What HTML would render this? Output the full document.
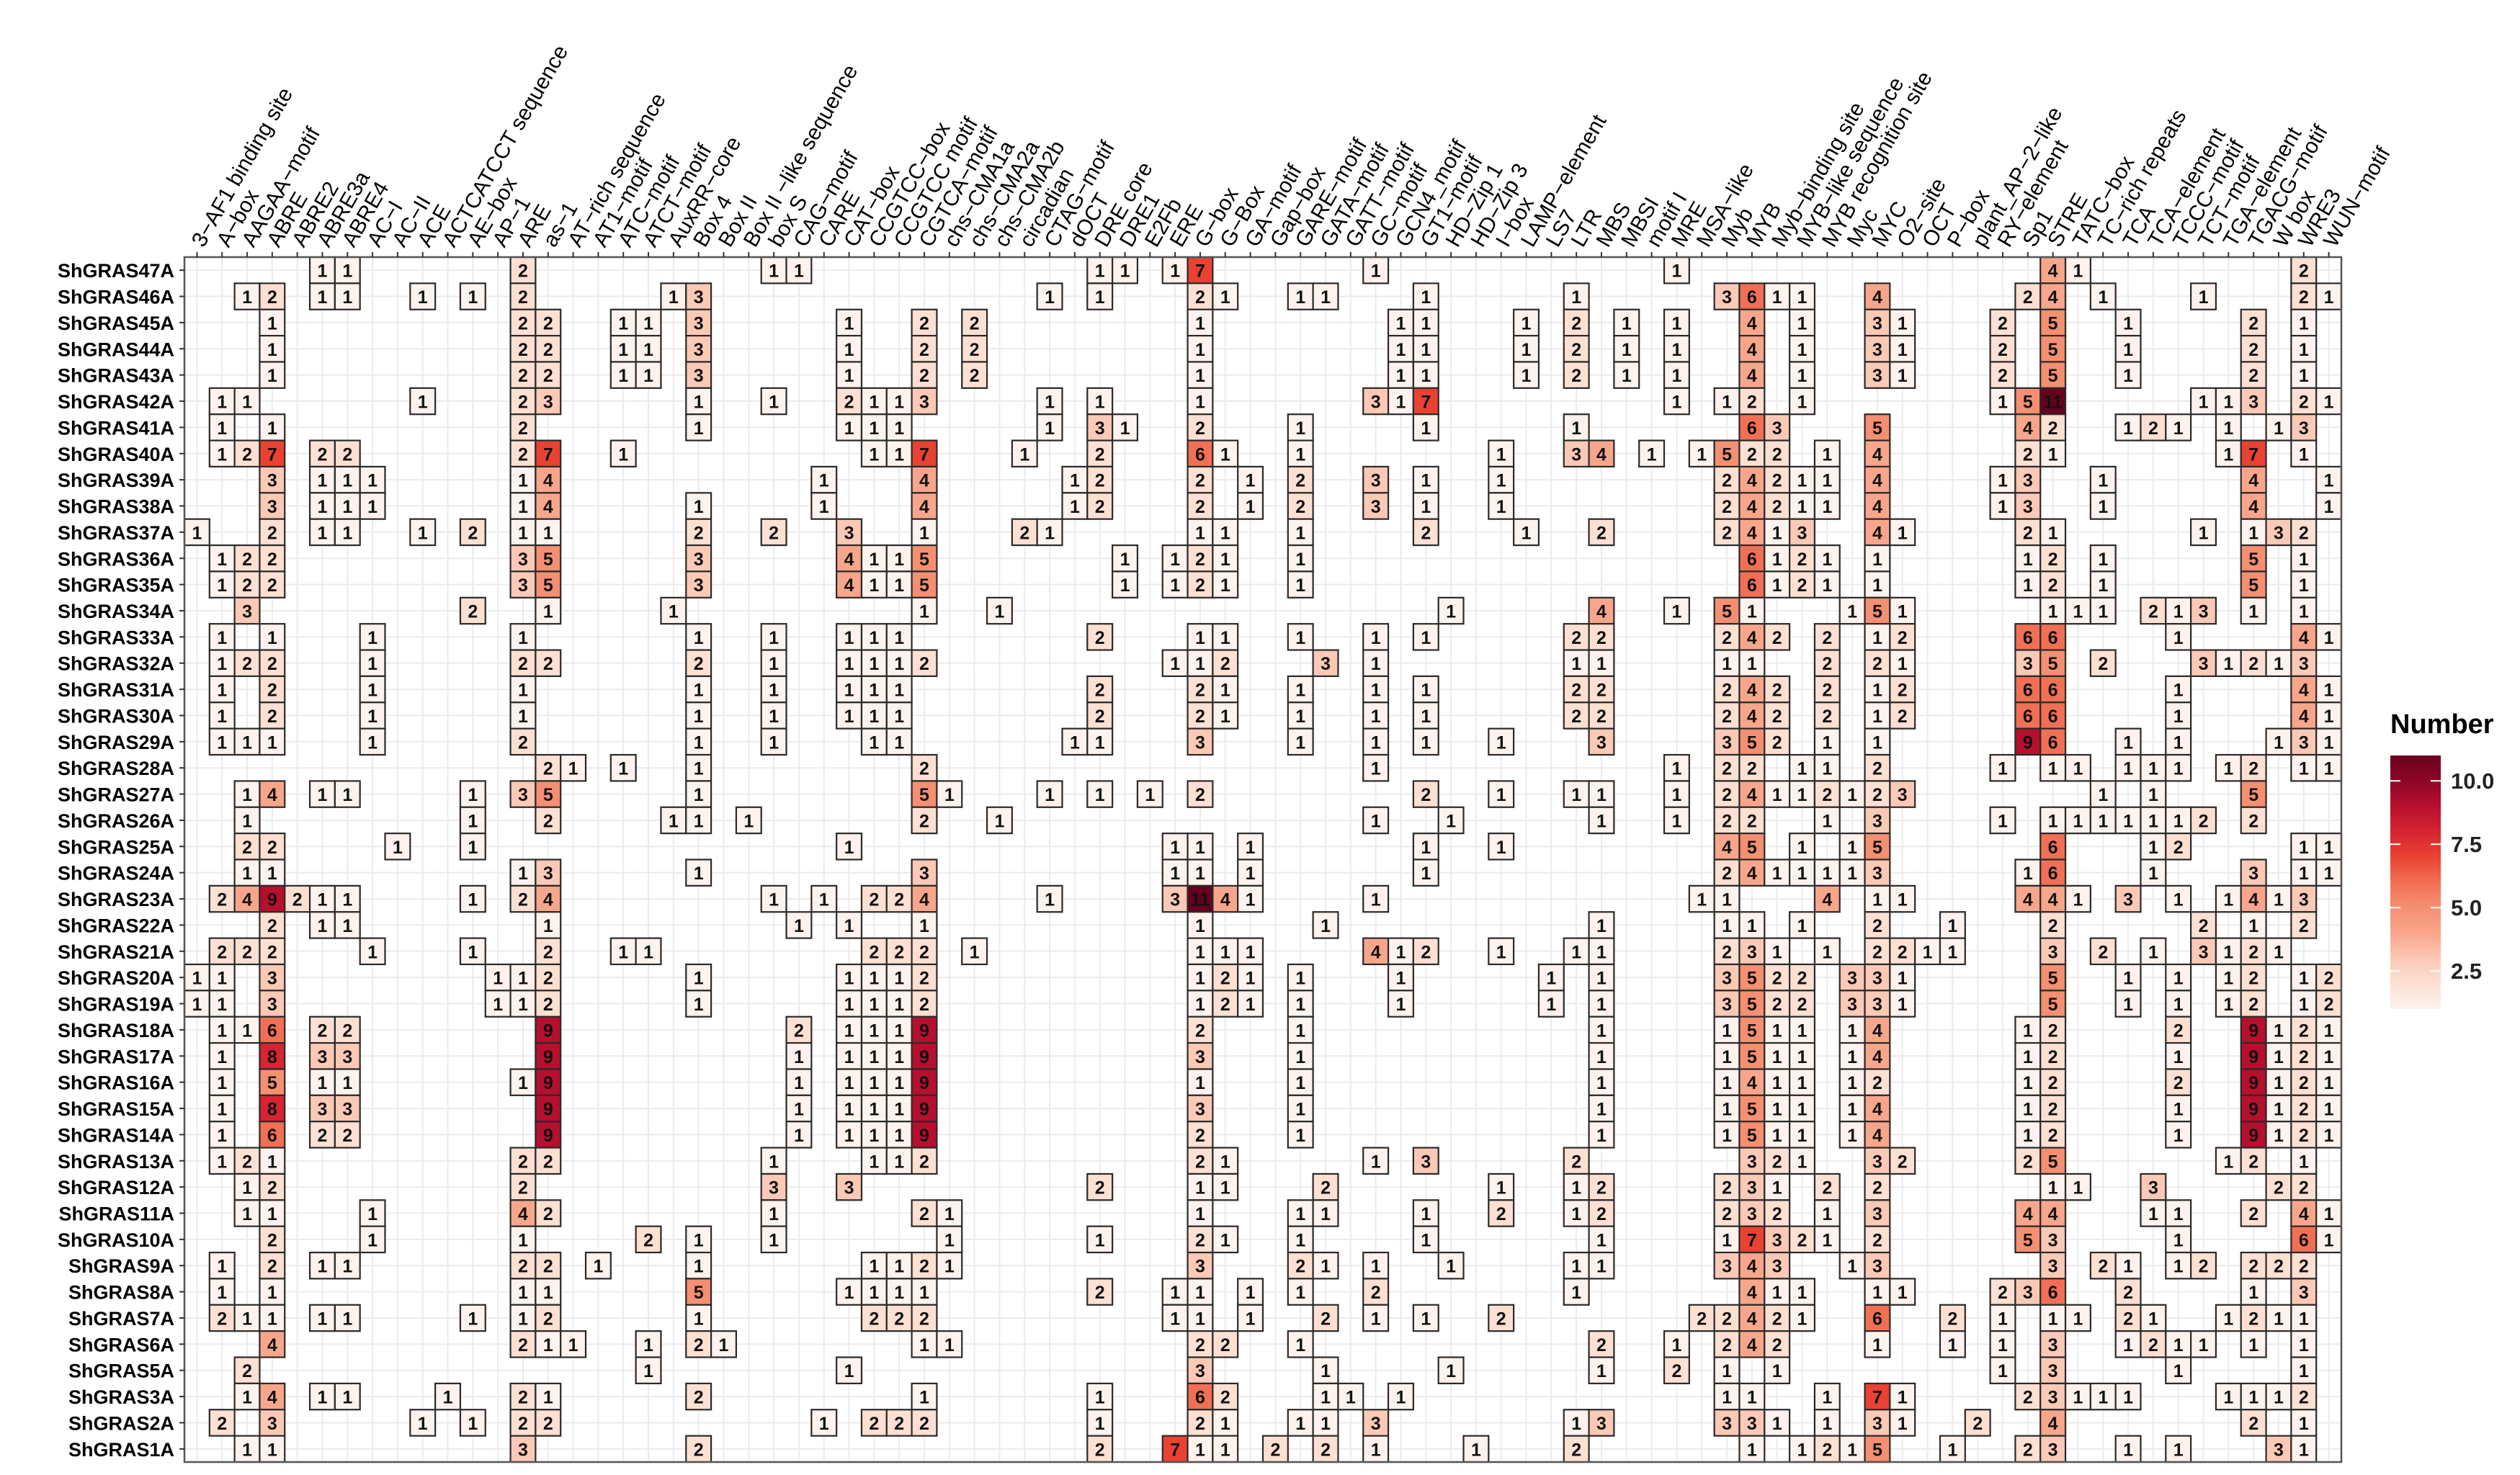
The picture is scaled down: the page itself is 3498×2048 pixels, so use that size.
<!DOCTYPE html>
<html><head><meta charset="utf-8">
<style>
html,body{margin:0;padding:0;background:#fff;}
svg{display:block;}
text{font-family:"Liberation Sans",Arial,sans-serif;}
</style></head>
<body>
<svg id="chart" width="3498" height="2048" viewBox="0 0 3498 2048" xmlns="http://www.w3.org/2000/svg">
<rect x="0" y="0" width="3498" height="2048" fill="#ffffff"/>
<g id="grid"></g><g id="tiles"></g><g id="xlabels"></g><g id="ylabels"></g><g id="legend"></g>
</svg>
<script>
const motifs = ["3−AF1 binding site","A−box","AAGAA−motif","ABRE","ABRE2","ABRE3a","ABRE4","AC−I","AC−II","ACE","ACTCATCCT sequence","AE−box","AP−1","ARE","as−1","AT−rich sequence","AT1−motif","ATC−motif","ATCT−motif","AuxRR−core","Box 4","Box II","Box II −like sequence","box S","CAG−motif","CARE","CAT−box","CCGTCC−box","CCGTCC motif","CGTCA−motif","chs−CMA1a","chs−CMA2a","chs−CMA2b","circadian","CTAG−motif","dOCT","DRE core","DRE1","E2Fb","ERE","G−box","G−Box","GA−motif","Gap−box","GARE−motif","GATA−motif","GATT−motif","GC−motif","GCN4_motif","GT1−motif","HD−Zip 1","HD−Zip 3","I−box","LAMP−element","LS7","LTR","MBS","MBSI","motif I","MRE","MSA−like","Myb","MYB","Myb−binding site","MYB−like sequence","MYB recognition site","Myc","MYC","O2−site","OCT","P−box","plant_AP−2−like","RY−element","Sp1","STRE","TATC−box","TC−rich repeats","TCA","TCA−element","TCCC−motif","TCT−motif","TGA−element","TGACG−motif","W box","WRE3","WUN−motif"];
const genes = ["ShGRAS47A","ShGRAS46A","ShGRAS45A","ShGRAS44A","ShGRAS43A","ShGRAS42A","ShGRAS41A","ShGRAS40A","ShGRAS39A","ShGRAS38A","ShGRAS37A","ShGRAS36A","ShGRAS35A","ShGRAS34A","ShGRAS33A","ShGRAS32A","ShGRAS31A","ShGRAS30A","ShGRAS29A","ShGRAS28A","ShGRAS27A","ShGRAS26A","ShGRAS25A","ShGRAS24A","ShGRAS23A","ShGRAS22A","ShGRAS21A","ShGRAS20A","ShGRAS19A","ShGRAS18A","ShGRAS17A","ShGRAS16A","ShGRAS15A","ShGRAS14A","ShGRAS13A","ShGRAS12A","ShGRAS11A","ShGRAS10A","ShGRAS9A","ShGRAS8A","ShGRAS7A","ShGRAS6A","ShGRAS5A","ShGRAS3A","ShGRAS2A","ShGRAS1A"];
// counts per gene: [motif column (1-based), count]
const r45 = [[4,1],[14,2],[15,2],[18,1],[19,1],[21,3],[27,1],[30,2],[32,2],[41,1],[49,1],[50,1],[54,1],[56,2],[58,1],[60,1],[63,4],[65,1],[68,3],[69,1],[73,2],[75,5],[78,1],[83,2],[85,1]];
const r36 = [[2,1],[3,2],[4,2],[14,3],[15,5],[21,3],[27,4],[28,1],[29,1],[30,5],[38,1],[40,1],[41,2],[42,1],[45,1],[63,6],[64,1],[65,2],[66,1],[68,1],[74,1],[75,2],[77,1],[83,5],[85,1]];
const r31 = [[2,1],[4,2],[8,1],[14,1],[21,1],[24,1],[27,1],[28,1],[29,1],[37,2],[41,2],[42,1],[45,1],[48,1],[50,1],[56,2],[57,2],[62,2],[63,4],[64,2],[66,2],[68,1],[69,2],[74,6],[75,6],[80,1],[85,4],[86,1]];
const r20 = [[1,1],[2,1],[4,3],[13,1],[14,1],[15,2],[21,1],[27,1],[28,1],[29,1],[30,2],[41,1],[42,2],[43,1],[45,1],[49,1],[55,1],[57,1],[62,3],[63,5],[64,2],[65,2],[67,3],[68,3],[69,1],[75,5],[78,1],[80,1],[82,1],[83,2],[85,1],[86,2]];
const cells = [
[[6,1],[7,1],[14,2],[24,1],[25,1],[37,1],[38,1],[40,1],[41,7],[48,1],[60,1],[75,4],[76,1],[85,2]],
[[3,1],[4,2],[6,1],[7,1],[10,1],[12,1],[14,2],[20,1],[21,3],[35,1],[37,1],[41,2],[42,1],[45,1],[46,1],[50,1],[56,1],[62,3],[63,6],[64,1],[65,1],[68,4],[74,2],[75,4],[77,1],[81,1],[85,2],[86,1]],
r45, r45, r45,
[[2,1],[3,1],[10,1],[14,2],[15,3],[21,1],[24,1],[27,2],[28,1],[29,1],[30,3],[35,1],[37,1],[41,1],[48,3],[49,1],[50,7],[60,1],[62,1],[63,2],[65,1],[73,1],[74,5],[75,11],[81,1],[82,1],[83,3],[85,2],[86,1]],
[[2,1],[4,1],[14,2],[21,1],[27,1],[28,1],[29,1],[35,1],[37,3],[38,1],[41,2],[45,1],[50,1],[56,1],[63,6],[64,3],[68,5],[74,4],[75,2],[78,1],[79,2],[80,1],[82,1],[84,1],[85,3]],
[[2,1],[3,2],[4,7],[6,2],[7,2],[14,2],[15,7],[18,1],[28,1],[29,1],[30,7],[34,1],[37,2],[41,6],[42,1],[45,1],[53,1],[56,3],[57,4],[59,1],[61,1],[62,5],[63,2],[64,2],[66,1],[68,4],[74,2],[75,1],[82,1],[83,7],[85,1]],
[[4,3],[6,1],[7,1],[8,1],[14,1],[15,4],[26,1],[30,4],[36,1],[37,2],[41,2],[43,1],[45,2],[48,3],[50,1],[53,1],[62,2],[63,4],[64,2],[65,1],[66,1],[68,4],[73,1],[74,3],[77,1],[83,4],[86,1]],
[[4,3],[6,1],[7,1],[8,1],[14,1],[15,4],[21,1],[26,1],[30,4],[36,1],[37,2],[41,2],[43,1],[45,2],[48,3],[50,1],[53,1],[62,2],[63,4],[64,2],[65,1],[66,1],[68,4],[73,1],[74,3],[77,1],[83,4],[86,1]],
[[1,1],[4,2],[6,1],[7,1],[10,1],[12,2],[14,1],[15,1],[21,2],[24,2],[27,3],[30,1],[34,2],[35,1],[41,1],[42,1],[45,1],[50,2],[54,1],[57,2],[62,2],[63,4],[64,1],[65,3],[68,4],[69,1],[74,2],[75,1],[81,1],[83,1],[84,3],[85,2]],
r36, r36,
[[3,3],[12,2],[15,1],[20,1],[30,1],[33,1],[51,1],[57,4],[60,1],[62,5],[63,1],[67,1],[68,5],[69,1],[75,1],[76,1],[77,1],[79,2],[80,1],[81,3],[83,1],[85,1]],
[[2,1],[4,1],[8,1],[14,1],[21,1],[24,1],[27,1],[28,1],[29,1],[37,2],[41,1],[42,1],[45,1],[48,1],[50,1],[56,2],[57,2],[62,2],[63,4],[64,2],[66,2],[68,1],[69,2],[74,6],[75,6],[80,1],[85,4],[86,1]],
[[2,1],[3,2],[4,2],[8,1],[14,2],[15,2],[21,2],[24,1],[27,1],[28,1],[29,1],[30,2],[40,1],[41,1],[42,2],[46,3],[48,1],[56,1],[57,1],[62,1],[63,1],[66,2],[68,2],[69,1],[74,3],[75,5],[77,2],[81,3],[82,1],[83,2],[84,1],[85,3]],
r31, r31,
[[2,1],[3,1],[4,1],[8,1],[14,2],[21,1],[24,1],[28,1],[29,1],[36,1],[37,1],[41,3],[45,1],[48,1],[50,1],[53,1],[57,3],[62,3],[63,5],[64,2],[66,1],[68,1],[74,9],[75,6],[78,1],[80,1],[84,1],[85,3],[86,1]],
[[15,2],[16,1],[18,1],[21,1],[30,2],[48,1],[60,1],[62,2],[63,2],[65,1],[66,1],[68,2],[73,1],[75,1],[76,1],[78,1],[79,1],[80,1],[82,1],[83,2],[85,1],[86,1]],
[[3,1],[4,4],[6,1],[7,1],[12,1],[14,3],[15,5],[21,1],[30,5],[31,1],[35,1],[37,1],[39,1],[41,2],[50,2],[53,1],[56,1],[57,1],[60,1],[62,2],[63,4],[64,1],[65,1],[66,2],[67,1],[68,2],[69,3],[77,1],[79,1],[83,5]],
[[3,1],[12,1],[15,2],[20,1],[21,1],[23,1],[30,2],[33,1],[48,1],[51,1],[57,1],[60,1],[62,2],[63,2],[66,1],[68,3],[73,1],[75,1],[76,1],[77,1],[78,1],[79,1],[80,1],[81,2],[83,2]],
[[3,2],[4,2],[9,1],[12,1],[27,1],[40,1],[41,1],[43,1],[50,1],[53,1],[62,4],[63,5],[65,1],[67,1],[68,5],[75,6],[79,1],[80,2],[85,1],[86,1]],
[[3,1],[4,1],[14,1],[15,3],[21,1],[30,3],[40,1],[41,1],[43,1],[50,1],[62,2],[63,4],[64,1],[65,1],[66,1],[67,1],[68,3],[74,1],[75,6],[79,1],[83,3],[85,1],[86,1]],
[[2,2],[3,4],[4,9],[5,2],[6,1],[7,1],[12,1],[14,2],[15,4],[24,1],[26,1],[28,2],[29,2],[30,4],[35,1],[40,3],[41,11],[42,4],[43,1],[48,1],[61,1],[62,1],[66,4],[68,1],[69,1],[74,4],[75,4],[76,1],[78,3],[80,1],[82,1],[83,4],[84,1],[85,3]],
[[4,2],[6,1],[7,1],[15,1],[25,1],[27,1],[30,1],[41,1],[46,1],[57,1],[62,1],[63,1],[65,1],[68,2],[71,1],[75,2],[81,2],[83,1],[85,2]],
[[2,2],[3,2],[4,2],[8,1],[12,1],[15,2],[18,1],[19,1],[28,2],[29,2],[30,2],[32,1],[41,1],[42,1],[43,1],[48,4],[49,1],[50,2],[53,1],[56,1],[57,1],[62,2],[63,3],[64,1],[66,1],[68,2],[69,2],[70,1],[71,1],[75,3],[77,2],[79,1],[81,3],[82,1],[83,2],[84,1]],
r20, r20,
[[2,1],[3,1],[4,6],[6,2],[7,2],[15,9],[25,2],[27,1],[28,1],[29,1],[30,9],[41,2],[45,1],[57,1],[62,1],[63,5],[64,1],[65,1],[67,1],[68,4],[74,1],[75,2],[80,2],[83,9],[84,1],[85,2],[86,1]],
[[2,1],[4,8],[6,3],[7,3],[15,9],[25,1],[27,1],[28,1],[29,1],[30,9],[41,3],[45,1],[57,1],[62,1],[63,5],[64,1],[65,1],[67,1],[68,4],[74,1],[75,2],[80,1],[83,9],[84,1],[85,2],[86,1]],
[[2,1],[4,5],[6,1],[7,1],[14,1],[15,9],[25,1],[27,1],[28,1],[29,1],[30,9],[41,1],[45,1],[57,1],[62,1],[63,4],[64,1],[65,1],[67,1],[68,2],[74,1],[75,2],[80,2],[83,9],[84,1],[85,2],[86,1]],
[[2,1],[4,8],[6,3],[7,3],[15,9],[25,1],[27,1],[28,1],[29,1],[30,9],[41,3],[45,1],[57,1],[62,1],[63,5],[64,1],[65,1],[67,1],[68,4],[74,1],[75,2],[80,1],[83,9],[84,1],[85,2],[86,1]],
[[2,1],[4,6],[6,2],[7,2],[15,9],[25,1],[27,1],[28,1],[29,1],[30,9],[41,2],[45,1],[57,1],[62,1],[63,5],[64,1],[65,1],[67,1],[68,4],[74,1],[75,2],[80,1],[83,9],[84,1],[85,2],[86,1]],
[[2,1],[3,2],[4,1],[14,2],[15,2],[24,1],[28,1],[29,1],[30,2],[41,2],[42,1],[48,1],[50,3],[56,2],[63,3],[64,2],[65,1],[68,3],[69,2],[74,2],[75,5],[82,1],[83,2],[85,1]],
[[3,1],[4,2],[14,2],[24,3],[27,3],[37,2],[41,1],[42,1],[46,2],[53,1],[56,1],[57,2],[62,2],[63,3],[64,1],[66,2],[68,2],[75,1],[76,1],[79,3],[84,2],[85,2]],
[[3,1],[4,1],[8,1],[14,4],[15,2],[24,1],[30,2],[31,1],[41,1],[45,1],[46,1],[50,1],[53,2],[56,1],[57,2],[62,2],[63,3],[64,2],[66,1],[68,3],[74,4],[75,4],[79,1],[80,1],[83,2],[85,4],[86,1]],
[[4,2],[8,1],[14,1],[19,2],[21,1],[24,1],[31,1],[37,1],[41,2],[42,1],[45,1],[50,1],[57,1],[62,1],[63,7],[64,3],[65,2],[66,1],[68,2],[74,5],[75,3],[80,1],[85,6],[86,1]],
[[2,1],[4,2],[6,1],[7,1],[14,2],[15,2],[17,1],[21,1],[28,1],[29,1],[30,2],[31,1],[41,3],[45,2],[46,1],[48,1],[51,1],[56,1],[57,1],[62,3],[63,4],[64,3],[67,1],[68,3],[75,3],[77,2],[78,1],[80,1],[81,2],[83,2],[84,2],[85,2]],
[[2,1],[4,1],[14,1],[15,1],[21,5],[27,1],[28,1],[29,1],[30,1],[37,2],[40,1],[41,1],[43,1],[45,1],[48,2],[56,1],[63,4],[64,1],[65,1],[68,1],[69,1],[73,2],[74,3],[75,6],[78,2],[83,1],[85,3]],
[[2,2],[3,1],[4,1],[6,1],[7,1],[12,1],[14,1],[15,2],[21,1],[28,2],[29,2],[30,2],[40,1],[41,1],[43,1],[46,2],[48,1],[50,1],[53,2],[61,2],[62,2],[63,4],[64,2],[65,1],[68,6],[71,2],[73,1],[75,1],[76,1],[78,2],[79,1],[82,1],[83,2],[84,1],[85,1]],
[[4,4],[14,2],[15,1],[16,1],[19,1],[21,2],[22,1],[30,1],[31,1],[41,2],[42,2],[45,1],[57,2],[60,1],[62,2],[63,4],[64,2],[68,1],[71,1],[73,1],[75,3],[78,1],[79,2],[80,1],[81,1],[83,1],[85,1]],
[[3,2],[19,1],[27,1],[41,3],[46,1],[51,1],[57,1],[60,2],[62,1],[64,1],[73,1],[75,3],[80,1],[85,1]],
[[3,1],[4,4],[6,1],[7,1],[11,1],[14,2],[15,1],[21,2],[30,1],[37,1],[41,6],[42,2],[46,1],[47,1],[49,1],[62,1],[63,1],[66,1],[68,7],[69,1],[74,2],[75,3],[76,1],[77,1],[78,1],[82,1],[83,1],[84,1],[85,2]],
[[2,2],[4,3],[10,1],[12,1],[14,2],[15,2],[26,1],[28,2],[29,2],[30,2],[37,1],[41,2],[42,1],[45,1],[46,1],[48,3],[56,1],[57,3],[62,3],[63,3],[64,1],[66,1],[68,3],[69,1],[72,2],[75,4],[83,2],[85,1]],
[[3,1],[4,1],[14,3],[21,2],[37,2],[40,7],[41,1],[42,1],[44,2],[46,2],[48,1],[52,1],[56,2],[63,1],[65,1],[66,2],[67,1],[68,5],[71,1],[74,2],[75,3],[78,1],[80,1],[84,3],[85,1]]
];
const legendTicks = [2.5, 5.0, 7.5, 10.0];
const legendMin = 1, legendMax = 11;

const NS = "http://www.w3.org/2000/svg";
const X0 = 256, X1 = 3250, Y0 = 357, Y1 = 2030;
const CW = (X1 - X0) / motifs.length, RH = (Y1 - Y0) / genes.length;
function xScale(c) { return X0 + (c - 0.5) * CW; }
function yScale(r) { return Y0 + (r + 0.5) * RH; }
const stops = [[1,[253,242,237]],[2,[253,224,210]],[3,[251,201,182]],[4,[248,166,139]],[5,[245,143,113]],[6,[241,112,85]],[7,[233,66,50]],[8,[214,36,50]],[9,[183,15,46]],[10,[142,6,38]],[11,[103,0,31]]];
function colorFor(v) {
  if (v <= stops[0][0]) return "rgb(" + stops[0][1].join(",") + ")";
  for (let i = 1; i < stops.length; i++) {
    if (v <= stops[i][0]) {
      const a = stops[i-1], b = stops[i], t = (v - a[0]) / (b[0] - a[0]);
      const c = a[1].map((x, k) => Math.round(x + (b[1][k] - x) * t));
      return "rgb(" + c.join(",") + ")";
    }
  }
  return "rgb(" + stops[stops.length-1][1].join(",") + ")";
}
function mk(tag, attrs, parent) {
  const el = document.createElementNS(NS, tag);
  for (const k in attrs) el.setAttribute(k, attrs[k]);
  parent.appendChild(el);
  return el;
}
const gGrid = document.getElementById("grid");
const gTiles = document.getElementById("tiles");
const gX = document.getElementById("xlabels");
const gY = document.getElementById("ylabels");
const gL = document.getElementById("legend");

for (let c = 1; c <= motifs.length; c++) {
  const l = mk("line", {x1:xScale(c), x2:xScale(c), y1:Y0, y2:Y1, stroke:"#ebebeb", "stroke-width":2}, gGrid);
  
  
}
for (let r = 0; r < genes.length; r++) {
  const l = mk("line", {x1:X0, x2:X1, y1:yScale(r), y2:yScale(r), stroke:"#ebebeb", "stroke-width":2}, gGrid);
  
  
}

cells.forEach((row, r) => {
  row.forEach(([c, v]) => {
    const cx = xScale(c), cy = yScale(r);
    const rect = mk("rect", {x:cx - CW/2, y:cy - RH/2, width:CW, height:RH, fill:colorFor(v), stroke:"#2a2a2a", "stroke-width":2.2}, gTiles);
    
    
    const t = mk("text", {x:cx, y:cy + 9.5, "text-anchor":"middle", "font-size":25, "font-weight":"bold", fill:"#111"}, gTiles);
    t.textContent = v;
    
    
  });
});
const border = mk("rect", {x:X0, y:Y0, width:X1-X0, height:Y1-Y0, fill:"none", stroke:"#555555", "stroke-width":2.5}, gTiles);



motifs.forEach((m, i) => {
  const cx = xScale(i + 1);
  const tk = mk("line", {x1:cx, x2:cx, y1:Y0 - 7, y2:Y0, stroke:"#333", "stroke-width":2}, gX);
  
  
  const t = mk("text", {transform:"translate(" + (cx + 9) + "," + (Y0 - 12) + ") rotate(-60)", "text-anchor":"start", "font-size":30, fill:"#000"}, gX);
  t.textContent = m;
  
  
});
genes.forEach((g, r) => {
  const cy = yScale(r);
  const tk = mk("line", {x1:X0 - 7, x2:X0, y1:cy, y2:cy, stroke:"#333", "stroke-width":2}, gY);
  
  
  const t = mk("text", {x:X0 - 14, y:cy + 10, "text-anchor":"end", "font-size":27, "font-weight":"bold", fill:"#000"}, gY);
  t.textContent = g;
  
  
});

const LX = 3318, LW = 70, LT = 1049, LB = 1401;
function lScale(v) { return LB - (v - legendMin) / (legendMax - legendMin) * (LB - LT); }
const defs = mk("defs", {}, gL);
const grad = mk("linearGradient", {id:"lg", x1:0, y1:1, x2:0, y2:0}, defs);
stops.forEach(([v, col]) => {
  mk("stop", {offset:((v - legendMin) / (legendMax - legendMin)), "stop-color":"rgb(" + col.join(",") + ")"}, grad);
});
const title = mk("text", {x:LX, y:1018, "font-size":38, "font-weight":"bold", fill:"#000"}, gL);
title.textContent = "Number";


const bar = mk("rect", {x:LX, y:LT, width:LW, height:LB - LT, fill:"url(#lg)"}, gL);


legendTicks.forEach(v => {
  const y = lScale(v);
  const a = mk("line", {x1:LX, x2:LX + 14, y1:y, y2:y, stroke:"#fff", "stroke-width":2}, gL);
  
  
  const b = mk("line", {x1:LX + LW - 14, x2:LX + LW, y1:y, y2:y, stroke:"#fff", "stroke-width":2}, gL);
  
  
  const t = mk("text", {x:LX + LW + 14, y:y + 11, "font-size":31, "font-weight":"bold", fill:"#222"}, gL);
  t.textContent = v.toFixed(1);
  
  
});
</script>
</body></html>
